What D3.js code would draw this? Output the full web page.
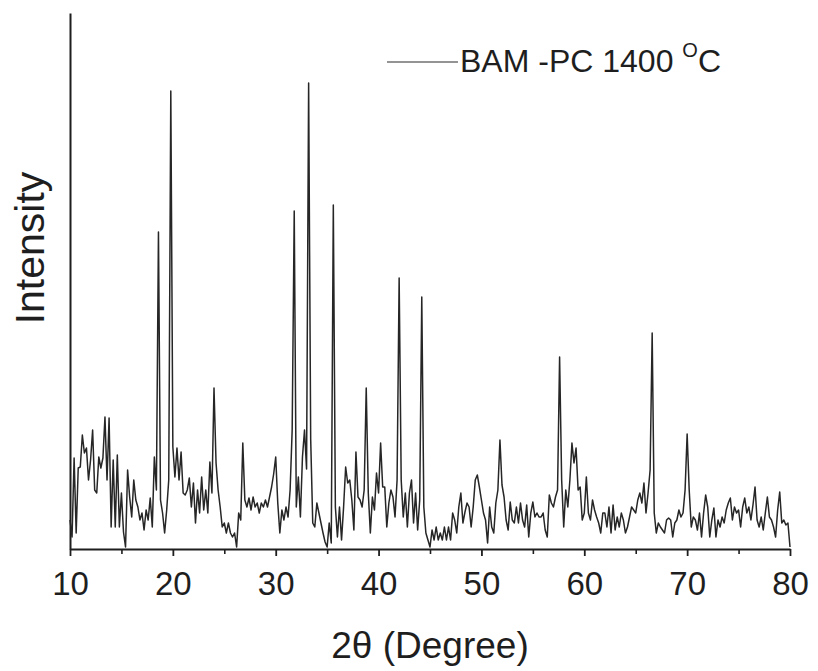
<!DOCTYPE html>
<html>
<head>
<meta charset="utf-8">
<script src="https://cdn.jsdelivr.net/npm/d3@7"></script>
<style>
  body { margin: 0; background: #fff; }
  text { font-family: "Liberation Sans", Arial, sans-serif; fill: #1e1e1e; }
</style>
</head>
<body>
<div id="xrd_graph"></div>
<script>
// XRD scan: 2theta 10..80 in 0.2 deg steps, intensity in arbitrary units
var startAngle = 10;
var stepAngle = 0.2;
var intensity = [
  29, 12, 91, 16, 81,     // 10
  82, 114, 96, 101, 69,   // 11
  89, 119, 59, 56, 92,    // 12
  81, 91, 132, 69, 131,   // 13
  22, 89, 22, 94, 22,     // 14
  56, 17, 2, 79, 52,      // 15
  32, 69, 49, 42, 29,     // 16
  36, 19, 39, 29, 51,     // 17
  22, 92, 59, 317, 49,    // 18
  36, 16, 39, 69, 458,    // 19
  102, 72, 101, 69, 97,   // 20
  56, 54, 59, 71, 42,     // 21
  66, 26, 59, 36, 72,     // 22
  39, 59, 36, 87, 56,     // 23
  161, 86, 59, 42, 22,    // 24
  26, 16, 26, 16, 12,     // 25
  16, 2, 36, 29, 106,     // 26
  49, 42, 51, 39, 52,     // 27
  42, 46, 36, 46, 42,     // 28
  49, 42, 52, 62, 75,     // 29
  92, 46, 16, 39, 29,     // 30
  42, 32, 59, 119, 338,   // 31
  42, 72, 32, 92, 119,    // 32
  80, 466, 110, 26, 22,   // 33
  46, 36, 26, 16, 7,      // 34
  2, 26, 6, 344, 42,      // 35
  12, 42, 9, 42, 82,      // 36
  66, 69, 49, 19, 97,     // 37
  52, 49, 42, 59, 161,    // 38
  56, 16, 52, 39, 76,     // 39
  56, 106, 62, 62, 22,    // 40
  46, 59, 52, 32, 69,     // 41
  271, 69, 32, 56, 22,    // 42
  56, 69, 26, 56, 19,     // 43
  49, 252, 42, 16, 9,     // 44
  2, 19, 9, 22, 9,        // 45
  16, 9, 22, 9, 22,       // 46
  9, 36, 29, 16, 42,      // 47
  56, 26, 37, 46, 42,     // 48
  22, 42, 69, 74, 62,     // 49
  49, 36, 29, 6, 42,      // 50
  22, 16, 46, 59, 109,    // 51
  64, 52, 29, 19, 47,     // 52
  29, 26, 42, 26, 46,     // 53
  29, 22, 44, 12, 36,     // 54
  47, 32, 36, 32, 32,     // 55
  36, 19, 12, 54, 46,     // 56
  42, 52, 59, 192, 69,    // 57
  22, 59, 42, 69, 106,    // 58
  86, 101, 59, 62, 29,    // 59
  36, 72, 36, 29, 49,     // 60
  39, 32, 26, 16, 36,     // 61
  36, 22, 42, 16, 44,     // 62
  19, 32, 22, 36, 29,     // 63
  16, 22, 32, 42, 39,     // 64
  36, 49, 56, 46, 66,     // 65
  36, 56, 79, 216, 36,    // 66
  16, 26, 22, 19, 16,     // 67
  29, 31, 29, 12, 26,     // 68
  29, 39, 32, 36, 59,     // 69
  115, 59, 22, 32, 29,    // 70
  19, 36, 12, 36, 54,     // 71
  42, 12, 29, 41, 12,     // 72
  29, 22, 32, 26, 39,     // 73
  46, 51, 29, 42, 36,     // 74
  39, 22, 42, 51, 36,     // 75
  42, 29, 44, 62, 29,     // 76
  22, 32, 19, 36, 52,     // 77
  32, 29, 22, 12, 39,     // 78
  57, 26, 29, 24, 26,     // 79
  2                       // 80
];
var majorTicks = [10, 20, 30, 40, 50, 60, 70, 80];
var minorTicks = [15, 25, 35, 45, 55, 65, 75];
var seriesName = "BAM -PC 1400 ";
var xTitle = "2\u03b8 (Degree)";
var yTitle = "Intensity";

window.onload = function() {

  var margin = {top: 13, right: 28, bottom: 122, left: 70};
  var width = 818 - margin.left - margin.right;
  var height = 671 - margin.top - margin.bottom;

  var svg = d3.select("#xrd_graph")
    .append("svg")
      .attr("width", width + margin.left + margin.right)
      .attr("height", height + margin.top + margin.bottom)
    .append("g")
      .attr("transform", "translate(" + margin.left + "," + margin.top + ")");

  var x = d3.scaleLinear().domain([10, 80]).range([0, width]);
  var y = d3.scaleLinear().domain([0, 536]).range([height, 0]);

  // minor ticks first, then the labelled axis on top
  svg.append("g")
    .attr("transform", "translate(0," + height + ")")
    .call(d3.axisBottom(x).tickValues(minorTicks).tickSize(5).tickFormat(""))
    .call(function(g) { g.select(".domain").remove(); })
    .selectAll("line").attr("stroke", "#1e1e1e").attr("stroke-width", 1.6);

  var xAxis = svg.append("g")
    .attr("transform", "translate(0," + height + ")")
    .attr("font-size", null).attr("font-family", null)
    .call(d3.axisBottom(x).tickValues(majorTicks).tickSize(7).tickSizeOuter(0));
  xAxis.select(".domain").attr("stroke", "#1e1e1e").attr("stroke-width", 2);
  xAxis.selectAll("line").attr("stroke", "#1e1e1e").attr("stroke-width", 1.8);
  xAxis.selectAll("text")
    .attr("y", 46).attr("dy", "0")
    .style("font-size", "33px");

  var yAxis = svg.append("g")
    .call(d3.axisLeft(y).ticks(0).tickSizeOuter(0));
  yAxis.select(".domain").attr("stroke", "#1e1e1e").attr("stroke-width", 2);

  // the scan
  var line = d3.line()
    .x(function(d, i) { return x(startAngle + i * stepAngle); })
    .y(function(d) { return y(d); });

  svg.append("path")
    .datum(intensity)
    .attr("fill", "none")
    .attr("stroke", "#262626")
    .attr("stroke-width", 1.5)
    .attr("stroke-linejoin", "round")
    .attr("d", line);

  // titles
  svg.append("text")
    .attr("x", 360).attr("y", 645)
    .attr("text-anchor", "middle")
    .style("font-size", "37px")
    .text(xTitle);

  svg.append("text")
    .attr("transform", "translate(-26,235) rotate(-90)")
    .attr("text-anchor", "middle")
    .style("font-size", "41px")
    .text(yTitle);

  // legend
  svg.append("line")
    .attr("x1", 317).attr("x2", 388).attr("y1", 49).attr("y2", 49)
    .attr("stroke", "#2a2a2a").attr("stroke-width", 1.2);
  var legend = svg.append("text")
    .attr("x", 390).attr("y", 59)
    .style("font-size", "32px");
  legend.append("tspan").text(seriesName);
  legend.append("tspan").attr("dy", -15).style("font-size", "20px").text("O");
  legend.append("tspan").attr("dy", 15).text("C");
}
</script>
</body>
</html>
